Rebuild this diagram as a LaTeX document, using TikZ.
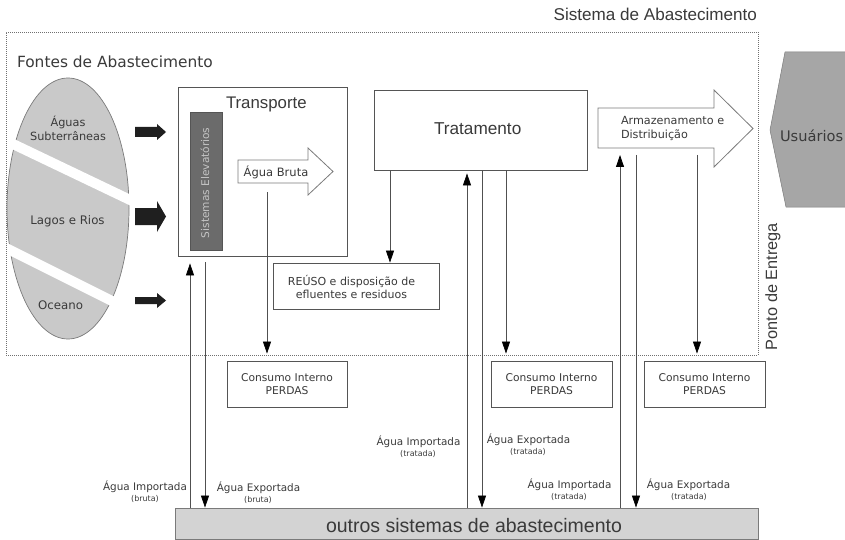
\documentclass[tikz,border=0pt]{standalone}
\usepackage{fontspec}
\setmainfont{DejaVu Sans}
\newfontfamily\arialf{Liberation Sans}
\usetikzlibrary{arrows.meta,shapes.geometric,calc}
\definecolor{txt}{HTML}{3A3A3A}
\definecolor{boxc}{HTML}{555555}
\definecolor{linec}{HTML}{505050}
\definecolor{dotc}{HTML}{707070}
\definecolor{ellf}{HTML}{C9C9C9}
\definecolor{ells}{HTML}{7A7A7A}
\definecolor{elevf}{HTML}{6B6B6B}
\definecolor{elevt}{HTML}{C4C4C4}
\definecolor{usuf}{HTML}{A6A6A6}
\definecolor{outf}{HTML}{D3D3D3}
\newcommand{\fsz}[1]{\fontsize{#1}{#1}\selectfont}
\begin{document}
\begin{tikzpicture}[x=1pt,y=-1pt,
  lbl/.style={text=txt, inner sep=0pt, outer sep=0pt},
  box/.style={draw=boxc, line width=0.8pt, fill=white, inner sep=0pt},
  arr/.style={draw=linec, line width=0.75pt, -{Triangle[length=12pt,width=8pt,color=black]}},
  hollowarrow/.style={draw=ells, line width=0.8pt, fill=white},
  blackarrow/.style={fill=black!88},
]
\useasboundingbox (0,0) rectangle (845,540);

% outer dotted system box
\node[draw=dotc, line width=0.6pt, dash pattern=on 1pt off 1pt, inner sep=0pt,
  minimum width=752pt, minimum height=323pt] (sist) at (382,193.5) {};
\node[lbl, anchor=base east, font=\arialf\fsz{17.1}] (sistl) at (757,21) {Sistema de Abastecimento};
\node[lbl, anchor=base west, font=\fsz{15.4}] (fontl) at (17,68) {Fontes de Abastecimento};

% sources ellipse
\node[ellipse, draw=ells, fill=ellf, line width=0.7pt, inner sep=0pt,
  minimum width=122pt, minimum height=261pt] (src) at (68,208.5) {};
\begin{scope}
  \clip (68,208.5) ellipse [x radius=63, y radius=133];
  \draw[white, line width=10pt] (0,137.8) -- (140,204.7);
  \draw[white, line width=10pt] (0,245) -- (140,315);
\end{scope}
\node[lbl, align=center, font=\fontsize{11.3}{14}\selectfont] (aguas) at (68,128) {Águas\\Subterrâneas};
\node[lbl, font=\fsz{11.8}] (lagos) at (67.5,221) {Lagos e Rios};
\node[lbl, font=\fsz{11.8}] (oceano) at (60.5,305) {Oceano};

% black arrows
\fill[blackarrow] (135,127) -- (157,127) -- (157,124) -- (166,132) -- (157,140) -- (157,137) -- (135,137) -- cycle;
\fill[blackarrow] (135,208) -- (157,208) -- (157,201) -- (166,216.5) -- (157,232) -- (157,225) -- (135,225) -- cycle;
\fill[blackarrow] (135,297) -- (157,297) -- (157,293) -- (166,300.5) -- (157,308) -- (157,304) -- (135,304) -- cycle;

% Transporte
\node[box, minimum width=169pt, minimum height=169pt] (transp) at (262.5,171.5) {};
\node[lbl, anchor=base west, font=\arialf\fsz{16.8}] (transpl) at (226,109) {Transporte};
\node[draw=boxc, fill=elevf, line width=0.6pt, inner sep=0pt, minimum width=32pt, minimum height=138pt] (elev) at (206,181) {};
\node[lbl, text=elevt, rotate=90, anchor=base west, font=\fsz{10.6}] (elevl) at (209,238) {Sistemas Elevatórios};
\draw[hollowarrow] (238,160) -- (308,160) -- (308,148) -- (333,171.5) -- (308,195) -- (308,183) -- (238,183) -- cycle;
\node[lbl, font=\fsz{11.5}] (brutal) at (276,172) {Água Bruta};
\coordinate (ab) at (267,192);

% Tratamento
\node[box, minimum width=213pt, minimum height=80pt] (trat) at (480.5,130) {};
\node[lbl, anchor=base west, font=\arialf\fsz{17.2}] (tratl) at (434,135) {Tratamento};

% Reuso
\node[box, minimum width=166pt, minimum height=46pt] (reuso) at (356,286) {};
\node[lbl, align=center, font=\fontsize{11}{13}\selectfont] (reusol) at (351.5,286.5) {REÚSO e disposição de\\efluentes e residuos};

% Armazenamento
\draw[hollowarrow] (598,108) -- (714,108) -- (714,90) -- (753,128.5) -- (714,167) -- (714,148) -- (598,148) -- cycle;
\node[lbl, anchor=west, align=left, font=\fontsize{11.2}{14}\selectfont] (arml) at (621,128) {Armazenamento e\\Distribuição};
\coordinate (armb) at (656,155);

% Usuarios
\fill[usuf] (785,52) -- (846,52) -- (846,207) -- (786,207) -- (770,130) -- cycle;
\draw[ells, line width=0.5pt] (846,52) -- (785,52) -- (770,130) -- (786,207) -- (846,207);
\node[lbl, anchor=base west, font=\fsz{14.6}] (usu) at (780,142) {Usuários};
\node[lbl, rotate=90, anchor=base west, font=\arialf\fsz{16.3}] (ponto) at (777,350) {Ponto de Entrega};

% Consumo boxes
\node[box, minimum width=120pt, minimum height=46pt, align=center, text=txt,
  font=\fontsize{10.7}{13}\selectfont] (cons1) at (287,384) {Consumo Interno\\PERDAS};
\node[box, minimum width=121pt, minimum height=46pt, align=center, text=txt,
  font=\fontsize{10.7}{13}\selectfont] (cons2) at (551.5,384) {Consumo Interno\\PERDAS};
\node[box, minimum width=121pt, minimum height=46pt, align=center, text=txt,
  font=\fontsize{10.7}{13}\selectfont] (cons3) at (704.5,384) {Consumo Interno\\PERDAS};

% outros sistemas
\node[draw=ells, fill=outf, line width=0.8pt, inner sep=0pt, minimum width=583pt, minimum height=31pt] (outros) at (466.5,523.5) {};
\node[lbl, anchor=base west, font=\arialf\fsz{19.5}] (outrosl) at (326,532) {outros sistemas de abastecimento};

% x positions of connectors
\coordinate (x190) at (190,0);
\coordinate (x205) at (205,0);
\coordinate (x390) at (390,0);
\coordinate (x467) at (467,0);
\coordinate (x482) at (482,0);
\coordinate (x506) at (506,0);
\coordinate (x620) at (620,0);
\coordinate (x636) at (636,0);
\coordinate (x697) at (697,0);

% connectors
\draw[arr, shorten >=7pt] (outros.north -| x190) -- (transp.south -| x190);
\draw[arr, shorten <=6pt] (transp.south -| x205) -- (outros.north -| x205);
\draw[arr, shorten >=7pt] (ab) -- (cons1.north -| ab);
\draw[arr] (trat.south -| x390) -- (reuso.north -| x390);
\draw[arr, shorten >=3pt] (outros.north -| x467) -- (trat.south -| x467);
\draw[arr] (trat.south -| x482) -- (outros.north -| x482);
\draw[arr, shorten >=7pt] (trat.south -| x506) -- (cons2.north -| x506);
\draw[arr] (outros.north -| x620) -- (armb -| x620);
\draw[arr] (armb -| x636) -- (outros.north -| x636);
\draw[arr, shorten >=7pt] (armb -| x697) -- (cons3.north -| x697);

% flow labels
\node[lbl, anchor=base, font=\fsz{10.4}] (impb) at (145,490) {Água Importada};
\node[lbl, anchor=base, font=\fsz{8}] (impbp) at (145,501) {(bruta)};
\node[lbl, anchor=base, font=\fsz{10.4}] (expb) at (258.5,491) {Água Exportada};
\node[lbl, anchor=base, font=\fsz{8}] (expbp) at (258,502) {(bruta)};
\node[lbl, anchor=base, font=\fsz{10.4}] (impt1) at (418.5,445) {Água Importada};
\node[lbl, anchor=base, font=\fsz{8}] (impt1p) at (418,456) {(tratada)};
\node[lbl, anchor=base, font=\fsz{10.4}] (expt1) at (528.5,443) {Água Exportada};
\node[lbl, anchor=base, font=\fsz{8}] (expt1p) at (528,454) {(tratada)};
\node[lbl, anchor=base, font=\fsz{10.4}] (impt2) at (569.5,488) {Água Importada};
\node[lbl, anchor=base, font=\fsz{8}] (impt2p) at (569,499) {(tratada)};
\node[lbl, anchor=base, font=\fsz{10.4}] (expt2) at (688.5,488) {Água Exportada};
\node[lbl, anchor=base, font=\fsz{8}] (expt2p) at (689,499) {(tratada)};
\end{tikzpicture}
\end{document}
